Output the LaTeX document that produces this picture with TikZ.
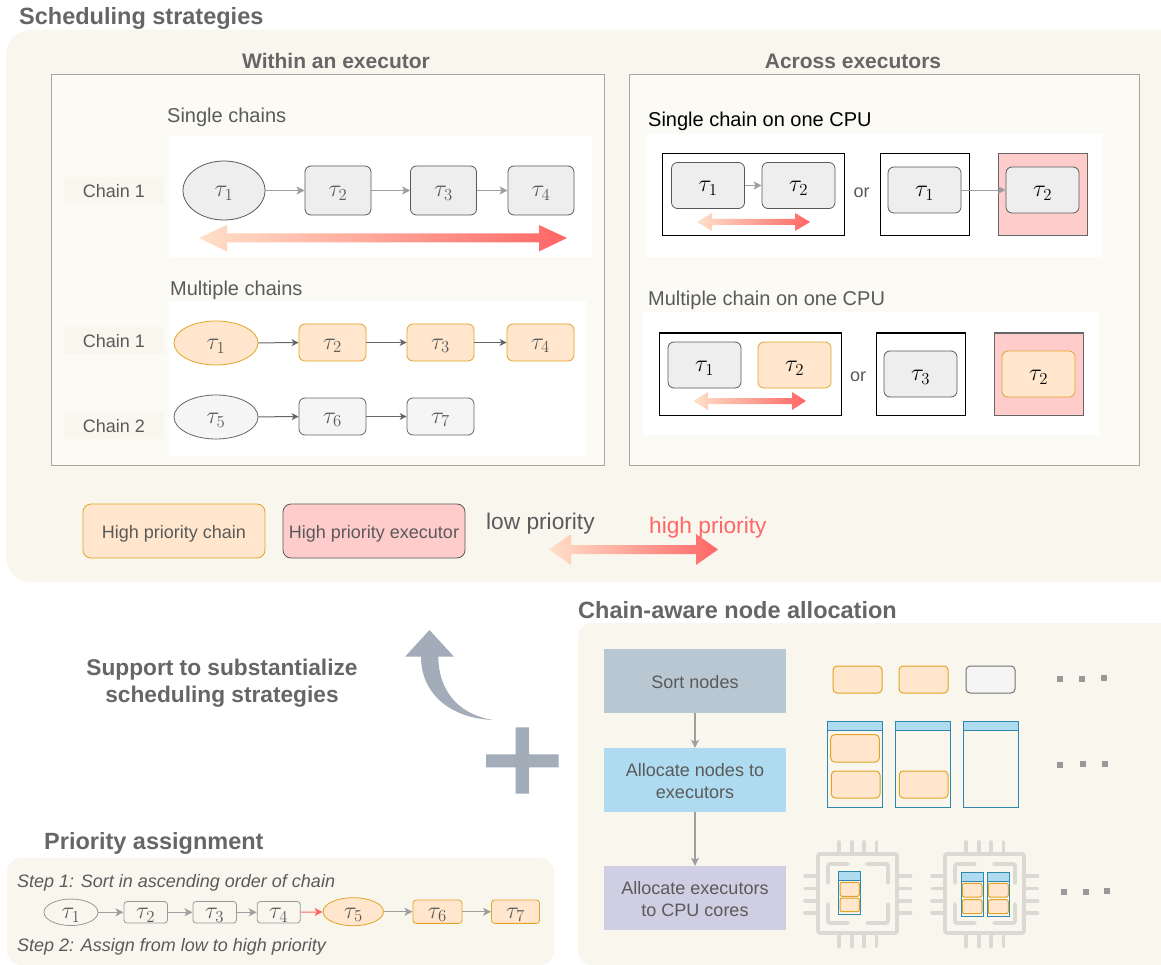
\RequirePackage{fix-cm}
\documentclass[tikz,border=0pt]{standalone}
\usepackage{amsmath,amssymb}
\usepackage{fontspec}
\setmainfont{Liberation Sans}
\usepackage{tikz}
\usetikzlibrary{arrows.meta}
\usetikzlibrary{shapes.geometric}
\definecolor{panelbg}{HTML}{F9F6EE}
\definecolor{innerbg}{HTML}{FBFAF5}
\definecolor{framecol}{HTML}{A9A89F}
\definecolor{textcol}{HTML}{5A5A5A}
\definecolor{headcol}{HTML}{666666}
\definecolor{grayfill}{HTML}{EEEEEE}
\definecolor{orangefill}{HTML}{FFE6CC}
\definecolor{orangeline}{HTML}{E0A526}
\definecolor{pinkfill}{HTML}{FFCCCC}
\definecolor{hotcol}{HTML}{FF6666}
\definecolor{lowcol}{HTML}{FFE0C8}
\definecolor{sortfill}{HTML}{B9C7D3}
\definecolor{allocfill}{HTML}{AEDBEF}
\definecolor{corefill}{HTML}{D0CEE2}
\definecolor{execline}{HTML}{2F88AE}
\definecolor{chipcol}{HTML}{DAD9D3}
\definecolor{bigarrow}{HTML}{A2ADB9}
\tikzset{
  head/.style={font=\bfseries\fontsize{23.5}{26}\selectfont, text=headcol, anchor=west, inner sep=0pt, text depth=0pt},
  subhead/.style={font=\bfseries\fontsize{21}{24}\selectfont, text=headcol, inner sep=0pt, text depth=0pt},
  plain/.style={font=\fontsize{18}{21}\selectfont, text=textcol, inner sep=0pt, text depth=0pt},
  sublabel/.style={plain, anchor=west, font=\fontsize{20}{23}\selectfont},
  stepnote/.style={font=\itshape\fontsize{18}{20}\selectfont, text=textcol, anchor=west, inner sep=0pt, text depth=0pt},
  chainband/.style={fill=panelbg, minimum width=100pt, minimum height=27pt, font=\fontsize{18}{21}\selectfont, text=textcol, inner sep=0pt, text height=15pt, text depth=0pt},
  task/.style={draw=black!65, fill=grayfill, rounded corners=6pt, inner sep=0pt, line width=0.8pt, font=\fontsize{24}{26}\selectfont, text=textcol, text height=13pt, text depth=0pt},
  taskroot/.style={draw=black!65, fill=grayfill, ellipse, inner sep=0pt, line width=0.8pt, font=\fontsize{24}{26}\selectfont, text=textcol, text height=13pt, text depth=0pt},
  hot/.style={draw=orangeline, fill=orangefill},
  quiet/.style={draw=black!60, fill=black!4},
  faint/.style={draw=black!40, fill=panelbg, line width=0.8pt},
  link/.style={-{Stealth[length=8pt,width=8pt,inset=2pt]}, draw=black!38, line width=1pt},
  darklink/.style={-{Stealth[length=7pt,width=7pt,inset=2pt]}, draw=black!60, line width=1pt},
  exec/.style={draw=execline, line width=1pt},
  chip/.style={draw=chipcol, line width=3.6pt, line cap=round, rounded corners=2pt},
  dotbox/.style={fill=black!40, minimum size=6pt, inner sep=0pt},
}
\begin{document}
\begin{tikzpicture}[x=1pt,y=-1pt]
\useasboundingbox (0,0) rectangle (1161,965);
\clip (0,0) rectangle (1161,965);
\fill[white] (0,0) rectangle (1161,965);

% scheduling strategies
\fill[panelbg, rounded corners=25pt] (6,30) rectangle (1190,582);
\draw (19,16) node[head] (schedhead) {Scheduling strategies};
\draw (336,61) node[subhead] (withinhead) {Within an executor};
\draw (853,61) node[subhead] (acrosshead) {Across executors};
\draw[framecol, fill=innerbg, line width=1pt] (51,75) rectangle (604,465);
\draw[framecol, fill=innerbg, line width=1pt] (629,75) rectangle (1139,465);

% single chains
\draw (167,115) node[sublabel] (singlelabel) {Single chains};
\fill[white] (169,136) rectangle (592,257);
\draw (114,190.5) node[chainband] (bandone) {Chain 1};
\draw (224,190.5) node[taskroot, minimum width=82pt, minimum height=59pt] (sa) {$\tau_1$};
\draw (338,190.5) node[task, minimum width=66pt, minimum height=49pt] (sb) {$\tau_2$};
\draw (443.5,190.5) node[task, minimum width=66pt, minimum height=49pt] (sc) {$\tau_3$};
\draw (541,190.5) node[task, minimum width=66pt, minimum height=49pt] (sd) {$\tau_4$};
\draw[link] (sa) -- (sb);
\draw[link] (sb) -- (sc);
\draw[link] (sc) -- (sd);
\shade[left color=lowcol, right color=hotcol] (199,238) -- (227,225) -- (227,233.5) -- (539,233.5) -- (539,225) -- (567,238) -- (539,251.5) -- (539,242.5) -- (227,242.5) -- (227,251.5) -- cycle;

% multiple chains
\draw (170,288) node[sublabel] (multilabel) {Multiple chains};
\fill[white] (169,301) rectangle (586,456);
\draw (114,340.5) node[chainband] (bandtwo) {Chain 1};
\draw (114,425) node[chainband] (bandthree) {Chain 2};
\draw (216,343) node[taskroot, hot, minimum width=84pt, minimum height=44pt] (ma) {$\tau_1$};
\draw (332.5,342.5) node[task, hot, minimum width=67pt, minimum height=37pt] (mb) {$\tau_2$};
\draw (440.5,342.5) node[task, hot, minimum width=67pt, minimum height=37pt] (mc) {$\tau_3$};
\draw (540.5,342.5) node[task, hot, minimum width=67pt, minimum height=37pt] (md) {$\tau_4$};
\draw (216,417) node[taskroot, quiet, minimum width=84pt, minimum height=44pt] (me) {$\tau_5$};
\draw (332.5,416.5) node[task, quiet, minimum width=67pt, minimum height=37pt] (mf) {$\tau_6$};
\draw (440.5,416.5) node[task, quiet, minimum width=67pt, minimum height=37pt] (mg) {$\tau_7$};
\draw[darklink] (ma) -- (mb);
\draw[darklink] (mb) -- (mc);
\draw[darklink] (mc) -- (md);
\draw[darklink] (me) -- (mf);
\draw[darklink] (mf) -- (mg);

% across executors, single chain
\draw (648,119) node[sublabel, text=black] (acrossone) {Single chain on one CPU};
\fill[white] (646,134) rectangle (1102,257);
\draw[black, fill=white, line width=1pt] (662.5,154) rectangle (844,236);
\draw (708,185.5) node[task, minimum width=73pt, minimum height=46pt, text=black] (xa) {$\tau_1$};
\draw (798.5,185.5) node[task, minimum width=73pt, minimum height=46pt, text=black] (xb) {$\tau_2$};
\draw[link] (xa) -- (xb);
\shade[left color=lowcol, right color=hotcol] (697,222) -- (712,213) -- (712,219) -- (795,219) -- (795,213) -- (810,222) -- (795,231) -- (795,225) -- (712,225) -- (712,231) -- cycle;
\draw (861.5,192.5) node[plain] (orone) {or};
\draw[black, fill=white, line width=1pt] (880,154) rectangle (969,236);
\draw[black!60, fill=pinkfill, line width=1pt] (998,154) rectangle (1087,236);
\draw (924.5,190) node[task, minimum width=73pt, minimum height=46pt, text=black] (ya) {$\tau_1$};
\draw (1042.5,190) node[task, minimum width=73pt, minimum height=46pt, text=black] (yb) {$\tau_2$};
\draw[link, line width=0.7pt] (ya) -- (yb);

% across executors, multiple chain
\draw (648,298) node[sublabel] (acrosstwo) {Multiple chain on one CPU};
\fill[white] (643,312) rectangle (1099,435);
\draw[black, fill=white, line width=1pt] (659,333) rectangle (841,415);
\draw (704.5,365) node[task, minimum width=73pt, minimum height=46pt, text=black] (za) {$\tau_1$};
\draw (794.5,365) node[task, hot, minimum width=73pt, minimum height=46pt, text=black] (zb) {$\tau_2$};
\shade[left color=lowcol, right color=hotcol] (693.5,401) -- (708,392) -- (708,398) -- (792,398) -- (792,392) -- (806,401) -- (792,410) -- (792,404) -- (708,404) -- (708,410) -- cycle;
\draw (858,376.5) node[plain] (ortwo) {or};
\draw[black, fill=white, line width=1pt] (876,333) rectangle (965.5,415);
\draw[black!60, fill=pinkfill, line width=1pt] (994,333) rectangle (1083,415);
\draw (920.5,374) node[task, minimum width=73pt, minimum height=46pt, text=black] (wa) {$\tau_3$};
\draw (1038.5,374) node[task, hot, minimum width=73pt, minimum height=46pt, text=black] (wb) {$\tau_2$};

% legend
\draw (174,531) node[task, hot, rounded corners=8pt, minimum width=182pt, minimum height=54pt, font=\fontsize{18}{21}\selectfont, text height=15pt] (legendchain) {High priority chain};
\draw (374,531) node[task, fill=pinkfill, rounded corners=8pt, minimum width=182pt, minimum height=54pt, font=\fontsize{18}{21}\selectfont, text height=15pt] (legendexec) {High priority executor};
\draw (486,521) node[plain, anchor=west, font=\fontsize{22.7}{26}\selectfont] (lowlabel) {low priority};
\draw (649,525) node[plain, anchor=west, text=hotcol, font=\fontsize{22.7}{26}\selectfont] (highlabel) {high priority};
\shade[left color=lowcol, right color=hotcol] (549,549.5) -- (571,534) -- (571,545) -- (696,545) -- (696,534) -- (718,549.5) -- (696,565) -- (696,554) -- (571,554) -- (571,565) -- cycle;

% support arrow and plus
\draw (222,680.5) node[subhead, align=center, font=\bfseries\fontsize{22.7}{27}\selectfont] (supportlabel) {Support to substantialize\\scheduling strategies};
\fill[bigarrow] (429.5,630) -- (454,656.7) -- (438.3,656.7) .. controls (438.3,688) and (456,714) .. (493,720) .. controls (448,718) and (421,692) .. (421,656.7) -- (405,656.7) -- cycle;
\fill[bigarrow] (486,754.3) -- (515.7,754.3) -- (515.7,727.3) -- (529,727.3) -- (529,754.3) -- (558.7,754.3) -- (558.7,767.3) -- (529,767.3) -- (529,793.7) -- (515.7,793.7) -- (515.7,767.3) -- (486,767.3) -- cycle;

% node allocation
\draw (578,610) node[head] (allochead) {Chain-aware node allocation};
\fill[panelbg, rounded corners=14pt] (578,623) rectangle (1190,965);
\draw (695,681) node[plain, fill=sortfill, minimum width=182pt, minimum height=64pt, text height=15pt] (sortbox) {Sort nodes};
\draw (695,780) node[plain, fill=allocfill, minimum width=182pt, minimum height=64pt, align=center, font=\fontsize{18}{22}\selectfont, text height=37pt] (allocbox) {Allocate nodes to\\executors};
\draw (695,898) node[plain, fill=corefill, minimum width=182pt, minimum height=64pt, align=center, font=\fontsize{18}{22}\selectfont, text height=37pt] (corebox) {Allocate executors\\to CPU cores};
\draw[link, line width=1.2pt] (sortbox) -- (allocbox);
\draw[link, line width=1.2pt] (allocbox) -- (corebox);

\draw[orangeline, fill=orangefill, line width=1pt, rounded corners=4pt] (833,666) rectangle (882,693);
\draw[orangeline, fill=orangefill, line width=1pt, rounded corners=4pt] (899,666) rectangle (948,693);
\draw[black!55, fill=black!4, line width=1pt, rounded corners=4pt] (966,666) rectangle (1015,693);
\draw (1060,679) node[dotbox] (dotaa) {};
\draw (1082,678.5) node[dotbox] (dotab) {};
\draw (1104,678) node[dotbox] (dotac) {};

\draw[exec, fill=allocfill] (827.5,721) rectangle (882.5,730);
\draw[exec] (827.5,730) rectangle (882.5,807);
\draw[exec, fill=allocfill] (895.7,721) rectangle (950.5,730);
\draw[exec] (895.7,730) rectangle (950.5,807);
\draw[exec, fill=allocfill] (963.7,721.5) rectangle (1018.3,730.5);
\draw[exec] (963.7,730.5) rectangle (1018.3,807.5);
\draw[orangeline, fill=orangefill, line width=1pt, rounded corners=4pt] (830.7,734.7) rectangle (879.3,762);
\draw[orangeline, fill=orangefill, line width=1pt, rounded corners=4pt] (831.3,771) rectangle (880,798);
\draw[orangeline, fill=orangefill, line width=1pt, rounded corners=4pt] (899.3,771) rectangle (948,798);
\draw (1060,764.5) node[dotbox] (dotba) {};
\draw (1083,764) node[dotbox] (dotbb) {};
\draw (1105,763.5) node[dotbox] (dotbc) {};

% first chip
\draw[chip] (818,854) rectangle (897,933);
\draw[chip] (848,864) -- (828,864) -- (828,883);
\draw[chip] (867,864) -- (888,864) -- (888,883);
\draw[chip] (828,904) -- (828,923) -- (848,923);
\draw[chip] (888,904) -- (888,923) -- (867,923);
\draw[chip] (839,842) -- (839,854) (851.7,842) -- (851.7,854) (864,842) -- (864,854) (876.3,842) -- (876.3,854);
\draw[chip] (839,933) -- (839,946.5) (851.7,933) -- (851.7,946.5) (864,933) -- (864,946.5) (876.3,933) -- (876.3,946.5);
\draw[chip] (805,876) -- (818,876) (805,888.3) -- (818,888.3) (805,900.7) -- (818,900.7) (805,913) -- (818,913);
\draw[chip] (897,876) -- (910.5,876) (897,888.3) -- (910.5,888.3) (897,900.7) -- (910.5,900.7) (897,913) -- (910.5,913);
\draw[exec, fill=allocfill] (838.3,871) rectangle (860.7,880.3);
\draw[exec] (838.3,880.3) rectangle (860.7,914.3);
\draw[orangeline, fill=orangefill, line width=1pt, rounded corners=2pt] (840,882.3) rectangle (859.3,896.3);
\draw[orangeline, fill=orangefill, line width=1pt, rounded corners=2pt] (840,898) rectangle (859.3,911.7);

% second chip
\draw[chip] (945,854) rectangle (1024,933);
\draw[chip] (975,864) -- (955,864) -- (955,883);
\draw[chip] (994,864) -- (1015,864) -- (1015,883);
\draw[chip] (955,904) -- (955,923) -- (975,923);
\draw[chip] (1015,904) -- (1015,923) -- (994,923);
\draw[chip] (966,842) -- (966,854) (978.7,842) -- (978.7,854) (991,842) -- (991,854) (1003.3,842) -- (1003.3,854);
\draw[chip] (966,933) -- (966,946.5) (978.7,933) -- (978.7,946.5) (991,933) -- (991,946.5) (1003.3,933) -- (1003.3,946.5);
\draw[chip] (932,876) -- (945,876) (932,888.3) -- (945,888.3) (932,900.7) -- (945,900.7) (932,913) -- (945,913);
\draw[chip] (1024,876) -- (1037.5,876) (1024,888.3) -- (1037.5,888.3) (1024,900.7) -- (1037.5,900.7) (1024,913) -- (1037.5,913);
\draw[exec, fill=allocfill] (961.3,872.7) rectangle (983,881.7);
\draw[exec] (961.3,881.7) rectangle (983,916.3);
\draw[exec, fill=allocfill] (987.3,872.7) rectangle (1009.7,881.7);
\draw[exec] (987.3,881.7) rectangle (1009.7,916.3);
\draw[orangeline, fill=orangefill, line width=1pt, rounded corners=2pt] (962.3,883.3) rectangle (982,897);
\draw[orangeline, fill=orangefill, line width=1pt, rounded corners=2pt] (962.3,899.7) rectangle (982,913.7);
\draw[orangeline, fill=orangefill, line width=1pt, rounded corners=2pt] (988.3,883.3) rectangle (1008.3,897);
\draw[orangeline, fill=orangefill, line width=1pt, rounded corners=2pt] (988.3,899.7) rectangle (1008.3,913.7);
\draw (1064,892) node[dotbox] (dotca) {};
\draw (1086,891.5) node[dotbox] (dotcb) {};
\draw (1107,891) node[dotbox] (dotcc) {};

% priority assignment
\draw (44,841) node[head] (priohead) {Priority assignment};
\fill[panelbg, rounded corners=14pt] (7,858) rectangle (554,965);
\draw (17,881) node[stepnote] (stepone) {Step 1: Sort in ascending order of chain};
\draw (17,945) node[stepnote] (steptwo) {Step 2: Assign from low to high priority};
\draw (71,912.3) node[taskroot, faint, minimum width=54pt, minimum height=26.5pt] (pa) {$\tau_1$};
\draw (145.7,912.3) node[task, faint, rounded corners=3pt, minimum width=43.5pt, minimum height=21.5pt] (pb) {$\tau_2$};
\draw (214.7,912.3) node[task, faint, rounded corners=3pt, minimum width=43.5pt, minimum height=21.5pt] (pc) {$\tau_3$};
\draw (278.7,912.3) node[task, faint, rounded corners=3pt, minimum width=43pt, minimum height=21.5pt] (pd) {$\tau_4$};
\draw (353.3,911.7) node[taskroot, hot, minimum width=60.5pt, minimum height=28pt] (pe) {$\tau_5$};
\draw (437.4,911.7) node[task, hot, rounded corners=3pt, minimum width=49pt, minimum height=23.3pt] (pf) {$\tau_6$};
\draw (515.5,911.7) node[task, hot, rounded corners=3pt, minimum width=48pt, minimum height=23.3pt] (pg) {$\tau_7$};
\draw[link] (pa) -- (pb);
\draw[link] (pb) -- (pc);
\draw[link] (pc) -- (pd);
\draw[link, draw=hotcol] (pd) -- (pe);
\draw[link] (pe) -- (pf);
\draw[link] (pf) -- (pg);
\end{tikzpicture}
\end{document}
